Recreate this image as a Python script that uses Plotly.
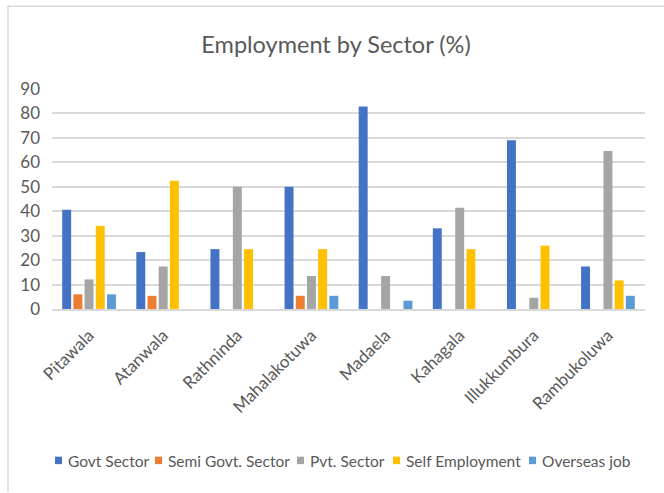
import plotly.graph_objects as go

villages = ["Pitawala", "Atanwala", "Rathninda", "Mahalakotuwa", "Madaela",
            "Kahagala", "Illukkumbura", "Rambukoluwa"]
govt = [40.6, 23.3, 24.5, 50, 82.8, 33, 69, 17.4]
semi_govt = [6, 5.4, 0, 5.4, 0, 0, 0, 0]
pvt = [12.1, 17.4, 50, 13.5, 13.5, 41.4, 4.6, 64.6]
self_emp = [34, 52.5, 24.5, 24.5, 0, 24.5, 25.9, 11.7]
overseas = [6, 0, 0, 5.4, 3.4, 0, 0, 5.4]

series_names = ["Govt Sector", "Semi Govt. Sector", "Pvt. Sector",
                "Self Employment", "Overseas job"]
series_values = [govt, semi_govt, pvt, self_emp, overseas]
series_colors = ["#4472C4", "#ED7D31", "#A5A5A5", "#FFC000", "#5B9BD5"]

FONT = "Lato, Open Sans, sans-serif"
GRAY = "#595959"
GRID = "#d9d9d9"

fig = go.Figure()
for name, vals, col in zip(series_names, series_values, series_colors):
    fig.add_trace(go.Bar(name=name, x=villages, y=vals, marker_color=col,
                         marker_line_width=0))

W, H = 664, 493
L, R, T, B = 52, 19, 89, 183.5
pw, ph = W - L - R, H - T - B


def px(x):
    return (x - L) / pw


def py(y):
    return (H - B - y) / ph


# legend drawn as a row of swatches + text (Excel-style compact legend)
legend_marker_x = [55, 155, 297, 393, 529]
shapes = [
    dict(type="line", xref="paper", yref="paper",
         x0=px(8), x1=px(664), y0=py(6), y1=py(6),
         line=dict(color=GRID, width=1.5)),
    dict(type="line", xref="paper", yref="paper",
         x0=px(8), x1=px(8), y0=py(6), y1=py(493),
         line=dict(color=GRID, width=1.5)),
]
annotations = []
for mx, name, col in zip(legend_marker_x, series_names, series_colors):
    shapes.append(dict(type="rect", xref="paper", yref="paper",
                       x0=px(mx), x1=px(mx + 7), y0=py(465), y1=py(457.5),
                       fillcolor=col, line=dict(width=0)))
    annotations.append(dict(text=name, xref="paper", yref="paper",
                            x=px(mx + 10.5), xanchor="left",
                            y=py(461.5), yanchor="middle", showarrow=False,
                            font=dict(family=FONT, size=15.5, color=GRAY)))

fig.update_layout(
    width=W, height=H,
    margin=dict(l=L, r=R, t=T, b=B, pad=0, autoexpand=False),
    paper_bgcolor="white", plot_bgcolor="white",
    barmode="group", bargap=0.245, bargroupgap=0.2,
    font=dict(family=FONT, color=GRAY, size=15),
    title=dict(text="Employment by Sector (%)", x=336 / W, xanchor="center",
               y=1 - 45 / H, yanchor="middle",
               font=dict(family=FONT, size=23.5, color=GRAY)),
    showlegend=False,
    shapes=shapes,
    annotations=annotations,
)
fig.update_yaxes(range=[0, 90], dtick=10, tick0=0, showgrid=True,
                 gridcolor=GRID, gridwidth=1.5, zeroline=False,
                 showline=False, ticks="", ticklabelstandoff=11,
                 automargin=False,
                 tickfont=dict(family=FONT, size=17, color=GRAY))
fig.update_xaxes(tickangle=-45, showline=True, linecolor=GRID,
                 linewidth=1.5, ticks="", ticklabelstandoff=8,
                 automargin=False,
                 tickfont=dict(family=FONT, size=17, color=GRAY))

fig.write_html("out.html")
